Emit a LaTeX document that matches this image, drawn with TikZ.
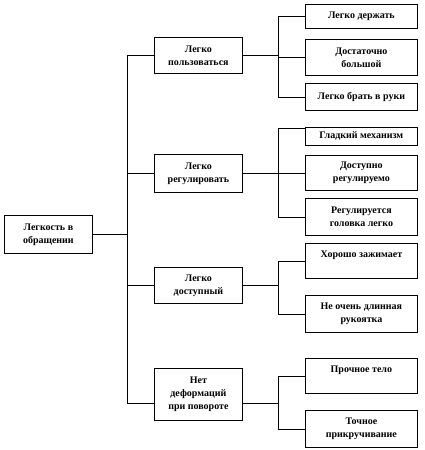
\documentclass[tikz,border=0pt]{standalone}
\usepackage{fontspec}
\setmainfont{Liberation Serif}
\usetikzlibrary{positioning}

\begin{document}
\begin{tikzpicture}[x=1pt, y=-1pt,
  cell/.style={draw, line width=0.8pt, align=center, anchor=north west,
    inner sep=0pt, font=\fontsize{10}{13}\selectfont\bfseries},
  mid/.style={cell, minimum width=88},
  leaf/.style={cell, minimum width=112},
  link/.style={line width=0.8pt}]
  \useasboundingbox (0,0) rectangle (424,450);

  % Root
  \node[mid, minimum height=38] (root) at (4,215) {Легкость в\\обращении};

  % First level
  \node[mid, minimum height=36] (use)    at (154,37)  {Легко\\пользоваться};
  \node[mid, minimum height=38] (adjust) at (154,154) {Легко\\регулировать};
  \node[mid, minimum height=36] (reach)  at (154,267) {Легко\\доступный};
  \node[mid, minimum height=52] (rigid)  at (154,368) {Нет\\деформаций\\при повороте};

  % Second level
  \node[leaf, minimum height=24] (hold)   at (305,4)   {Легко держать};
  \node[leaf, minimum height=36] (big)    at (305,39)  {Достаточно\\большой};
  \node[leaf, minimum height=27] (grab)   at (305,83)  {Легко брать в руки};
  \node[leaf, minimum height=18] (smooth) at (305,127) {Гладкий механизм};
  \node[leaf, minimum height=35] (tune)   at (305,155) {Доступно\\регулируемо};
  \node[leaf, minimum height=37] (head)   at (305,198) {Регулируется\\головка легко};
  \node[leaf, minimum height=35] (grip)   at (305,243) {Хорошо зажимает\\\mbox{}};
  \node[leaf, minimum height=37] (handle) at (305,295) {Не очень длинная\\рукоятка};
  \node[leaf, minimum height=35] (body)   at (305,358) {Прочное тело\\\mbox{}};
  \node[leaf, minimum height=37] (screw)  at (305,410) {Точное\\прикручивание};

  % Spine between root and first level
  \coordinate (spine) at (127,0);
  \coordinate (rigid in) at ([yshift=-9]rigid.west);
  \coordinate (rigid out) at ([yshift=-9]rigid.east);
  \draw[link] (root.east) -- (root.east -| spine);
  \draw[link] (spine |- use.west) -- (spine |- rigid in);
  \foreach \item in {use, adjust, reach}
    \draw[link] (spine |- \item.west) -- (\item.west);
  \draw[link] (spine |- rigid in) -- (rigid in);

  % Forks to second level
  \coordinate (fork) at (278,0);
  \coordinate (smooth in) at ([yshift=-1]smooth.north west);

  \draw[link] (use.east) -- (use.east -| fork);
  \draw[link] (fork |- hold.west) -- (fork |- grab.west);
  \foreach \item in {hold, big, grab}
    \draw[link] (fork |- \item.west) -- (\item.west);

  \draw[link] (adjust.east) -- (adjust.east -| fork);
  \draw[link] (fork |- smooth in) -- (fork |- head.west);
  \draw[link] (fork |- smooth in) -- (smooth in);
  \foreach \item in {tune, head}
    \draw[link] (fork |- \item.west) -- (\item.west);

  \draw[link] (reach.east) -- (reach.east -| fork);
  \draw[link] (fork |- grip.west) -- (fork |- handle.west);
  \foreach \item in {grip, handle}
    \draw[link] (fork |- \item.west) -- (\item.west);

  \draw[link] (rigid out) -- (rigid out -| fork);
  \draw[link] (fork |- body.west) -- (fork |- screw.west);
  \foreach \item in {body, screw}
    \draw[link] (fork |- \item.west) -- (\item.west);
\end{tikzpicture}
\end{document}
